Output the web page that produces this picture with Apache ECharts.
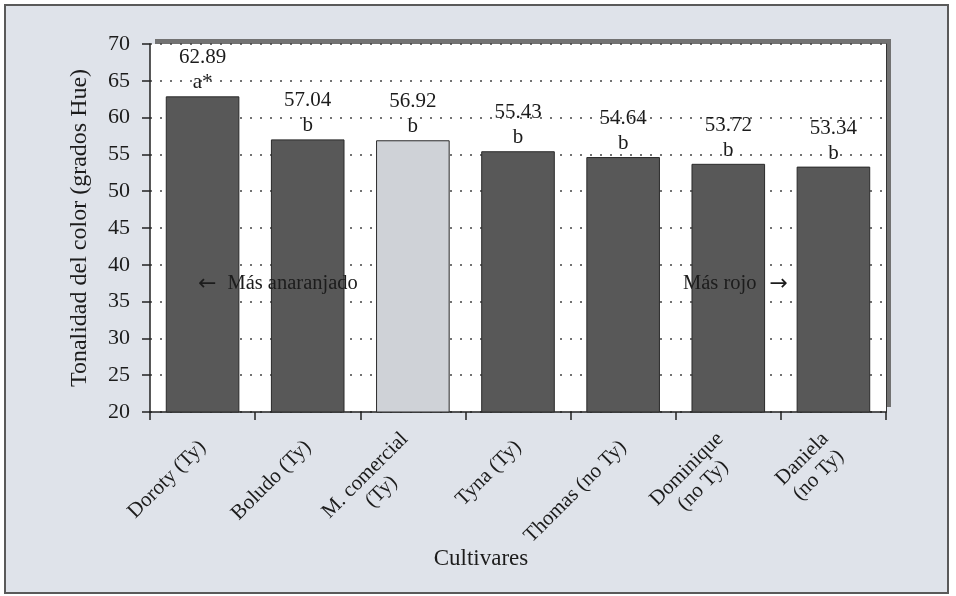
<!DOCTYPE html>
<html>
<head>
<meta charset="utf-8">
<script src="https://cdn.jsdelivr.net/npm/echarts@6/dist/echarts.min.js"></script>
<style>
html,body{margin:0;padding:0;background:#fff;}
#frame{position:absolute;left:4px;top:4px;width:941px;height:586px;background:#dfe3ea;border:2px solid #5a5a5a;}
#chart{position:absolute;left:0;top:0;width:956px;height:596px;}
</style>
</head>
<body>
<div id="frame"></div>
<div id="chart"></div>
<script>
const categories = ['Doroty (Ty)', 'Boludo (Ty)', 'M. comercial\n(Ty)', 'Tyna (Ty)', 'Thomas (no Ty)', 'Dominique\n(no Ty)', 'Daniela\n(no Ty)'];
const values = [62.89, 57.04, 56.92, 55.43, 54.64, 53.72, 53.34];
const letters = ['a*', 'b', 'b', 'b', 'b', 'b', 'b'];
const highlighted = [false, false, true, false, false, false, false];
const yTicks = { min: 20, max: 70, interval: 5 };

const FONT = '"Liberation Serif", "Times New Roman", serif';
const TXT = '#1c1c1c';

const chart = echarts.init(document.getElementById('chart'), null, { renderer: 'canvas' });
chart.setOption({
  backgroundColor: 'transparent',
  animation: false,
  textStyle: { fontFamily: FONT, color: TXT },
  grid: {
    left: 150, right: 70, top: 44, bottom: 184,
    show: true, backgroundColor: '#ffffff', borderWidth: 0,
    shadowColor: '#727272', shadowBlur: 0, shadowOffsetX: 5, shadowOffsetY: -5
  },
  xAxis: [{
    type: 'category',
    data: categories,
    name: 'Cultivares',
    nameLocation: 'middle',
    nameGap: 135,
    nameMoveOverlap: false,
    nameTextStyle: { fontFamily: FONT, fontSize: 23, color: TXT, padding: [0, 74, 0, 0] },
    axisLine: { lineStyle: { color: '#222', width: 1.5 } },
    axisTick: { show: true, length: 8, lineStyle: { color: '#222', width: 1.5 } },
    axisLabel: {
      rotate: 45, interval: 0, margin: 32,
      formatter: (v) => v.split('\n').map(s => '{c|' + s + '}').join('\n'),
      rich: { c: { fontFamily: FONT, fontSize: 21, color: TXT, lineHeight: 23, align: 'center' } }
    }
  }],
  yAxis: [{
    type: 'value',
    min: yTicks.min, max: yTicks.max, interval: yTicks.interval,
    name: 'Tonalidad del color (grados Hue)',
    nameLocation: 'middle',
    nameGap: 58,
    nameTextStyle: { fontFamily: FONT, fontSize: 24, color: TXT },
    axisLine: { show: true, lineStyle: { color: '#222', width: 1.5 } },
    axisTick: { show: true, length: 8, lineStyle: { color: '#222', width: 1.5 } },
    axisLabel: { fontFamily: FONT, fontSize: 22, color: TXT, margin: 20 },
    splitLine: { show: true, lineStyle: { color: '#444', type: [2, 8], width: 1.5 } }
  }, {
    type: 'value', position: 'right',
    min: yTicks.min, max: yTicks.max, interval: yTicks.interval,
    axisLine: { show: true, lineStyle: { color: '#333', width: 1 } },
    axisTick: { show: false }, axisLabel: { show: false }, splitLine: { show: false }
  }],
  series: [{
    type: 'bar',
    barCategoryGap: '30%',
    data: values.map((v, i) => ({
      value: v,
      itemStyle: { color: highlighted[i] ? '#cfd2d7' : '#585858', borderColor: '#2a2a2a', borderWidth: 1 }
    })),
    label: {
      show: true,
      position: 'top',
      distance: 1,
      formatter: (p) => '{v|' + values[p.dataIndex].toFixed(2) + '}\n{l|' + letters[p.dataIndex] + '}',
      rich: {
        v: { fontFamily: FONT, fontSize: 21, color: TXT, lineHeight: 25 },
        l: { fontFamily: FONT, fontSize: 21, color: TXT, lineHeight: 25 }
      }
    }
  }],
  graphic: [
    { type: 'text', left: 198, top: 273, z: 100,
      style: {
        text: '{a|\u2190}{t|Más anaranjado}',
        rich: {
          a: { fontFamily: '"DejaVu Sans", sans-serif', fontSize: 22, fill: TXT, padding: [0, 11, 0, 0] },
          t: { fontFamily: FONT, fontSize: 20.5, fill: TXT }
        }
      } },
    { type: 'text', left: 683, top: 273, z: 100,
      style: {
        text: '{t|Más rojo}{a|\u2192}',
        rich: {
          a: { fontFamily: '"DejaVu Sans", sans-serif', fontSize: 22, fill: TXT, padding: [0, 0, 0, 13] },
          t: { fontFamily: FONT, fontSize: 20.5, fill: TXT }
        }
      } }
  ]
});
</script>
</body>
</html>
